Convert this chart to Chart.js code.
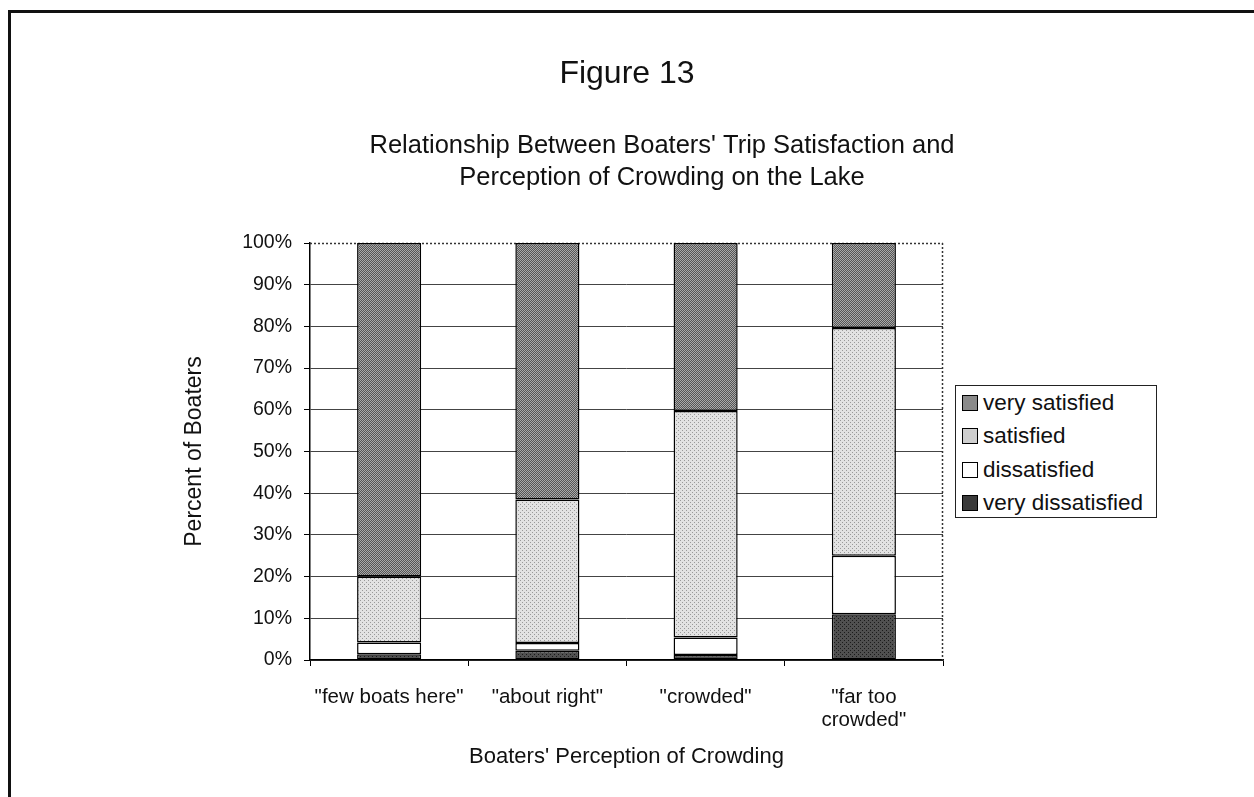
<!DOCTYPE html>
<html>
<head>
<meta charset="utf-8">
<script src="https://cdn.jsdelivr.net/npm/chart.js@4/dist/chart.umd.min.js"></script>
<style>
  body { margin: 0; background: #fff; }
  #wrap { position: relative; width: 1254px; height: 797px; overflow: hidden; font-family: "Liberation Sans", Arial, sans-serif; }
  #frame { position: absolute; left: 8px; top: 10px; width: 1260px; height: 800px; border-left: 3px solid #111; border-top: 3px solid #111; }
  #legend { position: absolute; left: 955px; top: 385px; width: 202px; height: 133px; border: 1px solid #222; background: #fff; box-sizing: border-box; padding-top: 0px; }
  .item { height: 33.5px; display: flex; align-items: center; font-size: 22.5px; color: #111; padding-left: 6px; }
  .sw { width: 14px; height: 14px; border: 1px solid #000; margin-right: 5px; }
</style>
</head>
<body>
<div id="wrap">
  <canvas id="myChart" width="1254" height="797"></canvas>
  <div id="frame"></div>
  <div id="legend"></div>
</div>
<script>
// data
const categories = ['"few boats here"', '"about right"', '"crowded"', ['"far too', 'crowded"']];
const veryDissatisfied = [1.4, 2.2, 1.2, 11.0];
const dissatisfied = [2.8, 1.9, 4.2, 14.0];
const satisfied = [15.8, 34.4, 54.3, 54.6];
const verySatisfied = [80.0, 61.5, 40.3, 20.4];
const yTicks = [0, 10, 20, 30, 40, 50, 60, 70, 80, 90, 100];
const subtitleLines = ["Relationship Between Boaters' Trip Satisfaction and", 'Perception of Crowding on the Lake'];

// little textures like the scanned print
function makePattern(bg, fg, kind) {
  const c = document.createElement('canvas');
  c.width = 4; c.height = 4;
  const g = c.getContext('2d');
  g.fillStyle = bg; g.fillRect(0, 0, 4, 4);
  g.fillStyle = fg;
  if (kind === 'diag') {
    for (let i = 0; i < 4; i++) g.fillRect(i, (3 - i), 1, 1);
    for (let i = 0; i < 4; i++) g.fillRect(i, (5 - i) % 4, 1, 1);
  } else if (kind === 'dots') {
    g.fillRect(0, 0, 1, 1); g.fillRect(2, 2, 1, 1);
  }
  return g.createPattern(c, 'repeat');
}
const ctx = document.getElementById('myChart').getContext('2d');
const fills = {
  vs: makePattern('#a9a9a9', '#555555', 'diag'),
  s: makePattern('#e2e2e2', '#999999', 'dots'),
  d: '#ffffff',
  vd: makePattern('#505050', '#1a1a1a', 'dots')
};

const series = [
  { label: 'very dissatisfied', data: veryDissatisfied, fill: fills.vd, sw: '#3a3a3a' },
  { label: 'dissatisfied', data: dissatisfied, fill: fills.d, sw: '#ffffff' },
  { label: 'satisfied', data: satisfied, fill: fills.s, sw: '#cfcfcf' },
  { label: 'very satisfied', data: verySatisfied, fill: fills.vs, sw: '#8a8a8a' }
];

// dotted top / right edge of the plot area
const plotFrame = {
  id: 'plotFrame',
  beforeDatasetsDraw(chart) {
    const a = chart.chartArea, c = chart.ctx;
    c.save();
    c.strokeStyle = '#333';
    c.lineWidth = 1.5;
    c.setLineDash([2, 2]);
    c.beginPath();
    c.moveTo(a.left, a.top + 0.5); c.lineTo(a.right, a.top + 0.5);
    c.moveTo(a.right - 0.5, a.top); c.lineTo(a.right - 0.5, a.bottom);
    c.stroke();
    c.restore();
  }
};

// the two-line chart title sits a bit right of "Figure 13"
const subtitleText = {
  id: 'subtitleText',
  afterDraw(chart) {
    const c = chart.ctx;
    c.save();
    c.fillStyle = '#111';
    c.font = '25.5px "Liberation Sans", Arial, sans-serif';
    c.textAlign = 'center';
    c.textBaseline = 'middle';
    subtitleLines.forEach((t, i) => c.fillText(t, 662, 146 + i * 32));
    c.restore();
  }
};

new Chart(ctx, {
  type: 'bar',
  data: {
    labels: categories,
    datasets: series.map(s => ({
      label: s.label,
      data: s.data,
      backgroundColor: s.fill,
      borderColor: '#000',
      borderWidth: 1.5,
      borderSkipped: false,
      barPercentage: 0.405,
      categoryPercentage: 1
    }))
  },
  options: {
    responsive: false,
    animation: false,
    layout: { padding: { left: 0, right: 0, top: 0, bottom: 27 } },
    plugins: {
      legend: { display: false },
      tooltip: { enabled: false },
      title: {
        display: true,
        text: 'Figure 13',
        color: '#111',
        font: { family: 'Liberation Sans', size: 32, weight: 'normal', lineHeight: 1.2 },
        padding: { top: 54.8, bottom: 149.8 }
      }
    },
    scales: {
      x: {
        stacked: true,
        afterFit(scale) { scale.height = 110; },
        grid: { drawOnChartArea: false, drawTicks: true, tickLength: 6, color: '#000', offset: true },
        border: { color: '#000', width: 1.5 },
        ticks: {
          color: '#111',
          padding: 19.5,
          font: { family: 'Liberation Sans', size: 20.5, lineHeight: '23px' }
        },
        title: {
          display: true,
          text: "Boaters' Perception of Crowding",
          color: '#111',
          padding: 0,
          font: { family: 'Liberation Sans', size: 22, lineHeight: '26px' }
        }
      },
      y: {
        stacked: true,
        min: 0,
        max: 100,
        afterFit(scale) { scale.width = 310; },
        afterBuildTicks(scale) { scale.ticks = yTicks.map(v => ({ value: v })); },
        grid: {
          color: ctx => (ctx.tick && ctx.tick.value === 100) ? 'rgba(0,0,0,0)' : '#444',
          tickColor: '#000',
          tickLength: 6,
          lineWidth: 1
        },
        border: { color: '#000', width: 1.5 },
        ticks: {
          color: '#111',
          padding: 12,
          font: { family: 'Liberation Sans', size: 19.5 },
          callback: v => v + '%'
        },
        title: {
          display: true,
          text: 'Percent of Boaters',
          color: '#111',
          padding: { top: 181, bottom: 0 },
          font: { family: 'Liberation Sans', size: 23, lineHeight: 1.2 }
        }
      },
      // empty room on the right for the legend box
      yRight: {
        position: 'right',
        afterFit(scale) { scale.width = 311; },
        grid: { display: false },
        border: { display: false },
        ticks: { display: false }
      }
    }
  },
  plugins: [plotFrame, subtitleText]
});

// legend box, top entry = top of the stack
const lg = document.getElementById('legend');
series.slice().reverse().forEach(s => {
  const row = document.createElement('div');
  row.className = 'item';
  const sw = document.createElement('span');
  sw.className = 'sw';
  sw.style.background = s.sw;
  row.appendChild(sw);
  row.appendChild(document.createTextNode(s.label));
  lg.appendChild(row);
});
</script>
</body>
</html>
